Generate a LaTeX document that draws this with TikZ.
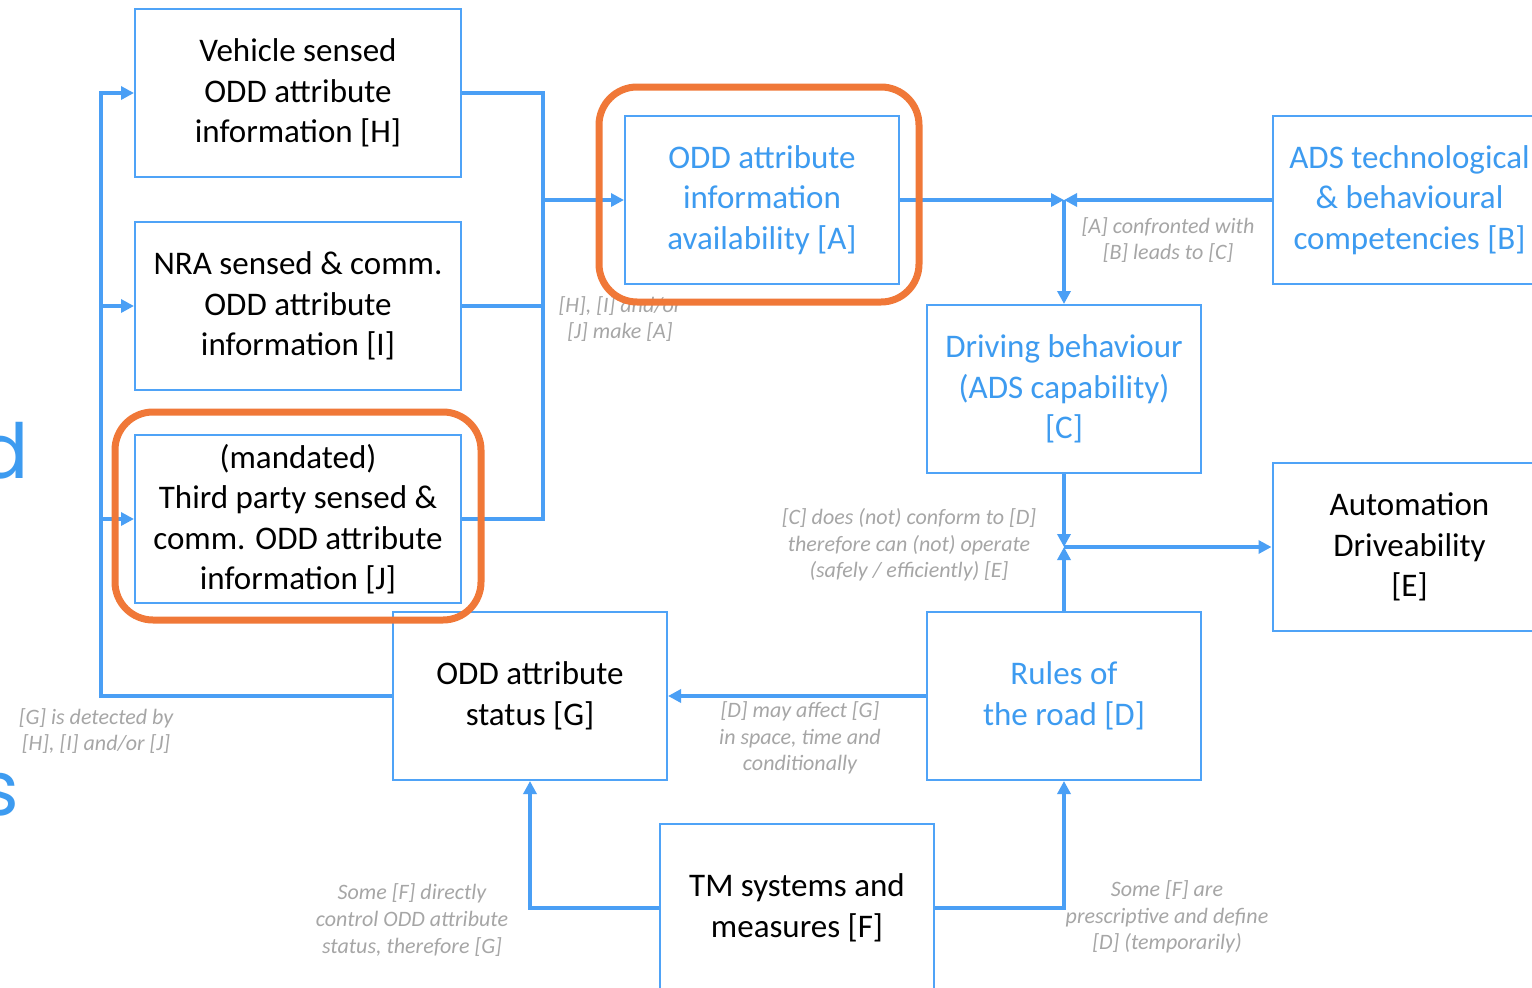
\documentclass[tikz,border=0pt]{standalone}
\usepackage{fontspec}
\setmainfont{Carlito}
\newfontfamily\bigfont{Poppins}
\usetikzlibrary{arrows.meta}
\definecolor{boxblue}{HTML}{4FA3F7}
\definecolor{lineblue}{HTML}{4A9FF5}
\definecolor{txtblue}{HTML}{3D9BF0}
\definecolor{lblgray}{HTML}{A6A6A6}
\definecolor{hlorange}{HTML}{F07838}
\begin{document}
\begin{tikzpicture}[x=1pt,y=-1pt,
 box/.style={draw=boxblue,line width=2pt,fill=white,minimum width=274pt,minimum height=168pt,align=center,inner sep=0pt,font=\fontsize{33}{40.5}\selectfont},
 widebox/.style={box,minimum width=326pt},
 bluetxt/.style={text=txtblue},
 conn/.style={draw=lineblue,line width=4.5pt,-{Triangle[length=13pt,width=13pt]}},
 wire/.style={draw=lineblue,line width=4.5pt},
 lbl/.style={text=lblgray,align=center,font=\fontsize{22}{26.7}\selectfont\itshape,inner sep=0pt},
 hl/.style={draw=hlorange,line width=7pt,rounded corners=38pt},
 bigletter/.style={text=txtblue,font=\bigfont\fontsize{76}{80}\selectfont,inner sep=0pt}
]
\useasboundingbox (0,0) rectangle (1532,988);
\begin{scope}
\clip (0,0) rectangle (1532,988);
\fill[white] (0,0) rectangle (1532,988);

% background title letters (cut off)
\node[bigletter,anchor=base east] (bgd) at (29,478) {d};
\node[bigletter,anchor=base east] (bgs) at (19,815) {s};

% boxes
\node[widebox] (H) at (298,93) {Vehicle sensed\\ODD attribute\\information [H]};
\node[widebox] (I) at (298,306) {NRA sensed \& comm.\\ODD attribute\\information [I]};
\node[widebox] (J) at (298,519) {(mandated)\\Third party sensed \&\\comm. ODD attribute\\information [J]};
\node[box,bluetxt] (A) at (762,200) {ODD attribute\\information\\availability [A]};
\node[box,bluetxt] (B) at (1409.5,200) {ADS technological\\\& behavioural\\competencies [B]};
\node[box,bluetxt] (C) at (1064,389) {Driving behaviour\\(ADS capability)\\{[C]}};
\node[box] (E) at (1409.5,547) {Automation\\Driveability\\{[E]}};
\node[box] (G) at (530,696) {ODD attribute\\status [G]};
\node[box,bluetxt] (D) at (1064,696) {Rules of\\the road [D]};
\node[box] (F) at (797,908) {TM systems and\\measures [F]};

% coordinates
\coordinate (xA) at (543,200);
\coordinate (xJ) at (543,519);
\coordinate (lft) at (101,0);
\coordinate (jAB) at (1064,200);
\coordinate (jCD) at (1064,547);

% connectors left group
\draw[wire] (H.east) -| (xJ) -- (J.east);
\draw[wire] (I.east) -- (I.east -| xA);
\draw[conn] (xA) -- (A.west);
\draw[conn] (G.west) -- (G.west -| lft) |- (H.west);
\draw[conn] (I.west -| lft) -- (I.west);
\draw[conn] (J.west -| lft) -- (J.west);

% right group
\draw[conn] (A.east) -- (jAB);
\draw[conn] (B.west) -- (jAB);
\draw[conn] (jAB) -- (C.north);
\draw[conn] (C.south) -- (jCD);
\draw[conn] (D.north) -- (jCD);
\draw[conn] (jCD) -- (E.west);
\draw[conn] (D.west) -- (G.east);
\draw[conn] (F.west) -| (G.south);
\draw[conn] (F.east) -| (D.south);

% labels
\node[lbl] (lHA) at (620,319) {[H], [I] and/or\\{[J]} make [A]};
\node[lbl] (lAB) at (1168,240) {[A] confronted with\\{[B]} leads to [C]};
\node[lbl] (lCD) at (909,545) {[C] does (not) conform to [D]\\therefore can (not) operate\\(safely / efficiently) [E]};
\node[lbl] (lG) at (96,731) {[G] is detected by\\{[H]}, [I] and/or [J]};
\node[lbl] (lDG) at (800,738) {[D] may affect [G]\\in space, time and\\conditionally};
\node[lbl] (lFG) at (412,920) {Some [F] directly\\control ODD attribute\\status, therefore [G]};
\node[lbl] (lFD) at (1167,917) {Some [F] are\\prescriptive and define\\{[D]} (temporarily)};

% highlights
\draw[hl] (599,87) rectangle (919,302);
\draw[hl] (115,412) rectangle (481,620);
\end{scope}
\end{tikzpicture}
\end{document}
